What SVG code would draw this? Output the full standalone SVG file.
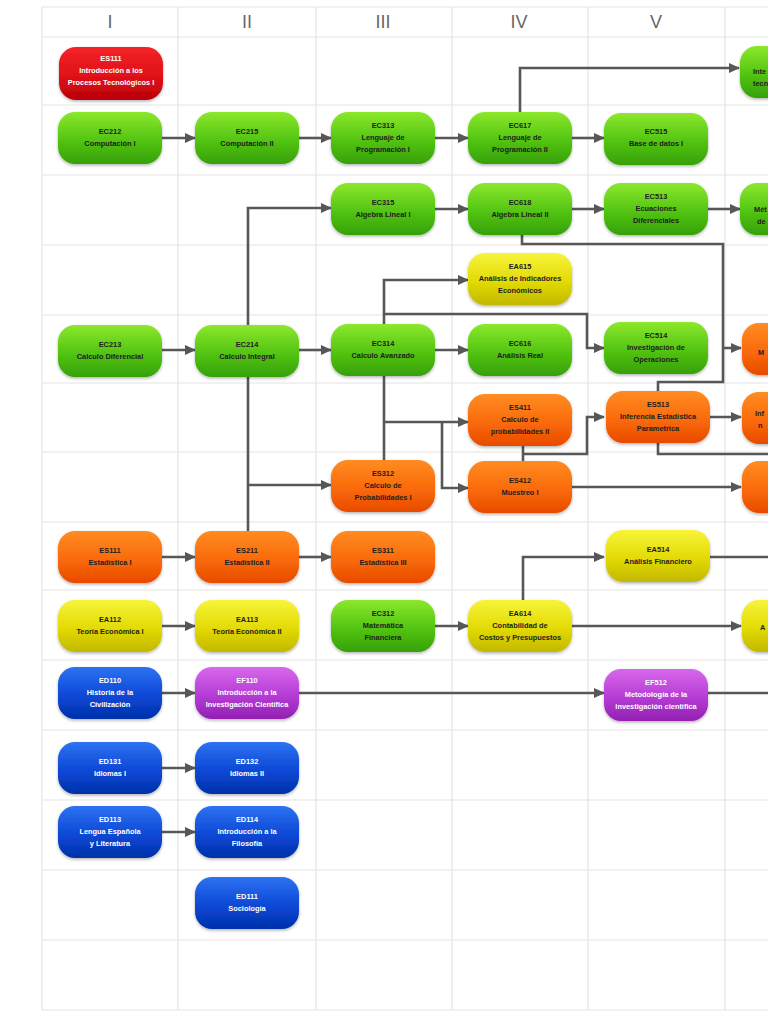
<svg xmlns="http://www.w3.org/2000/svg" width="768" height="1024" viewBox="0 0 768 1024">
<style>
.grid line{stroke:#e4e4e4;stroke-width:1.2}
.hdr{font-family:"Liberation Sans",Arial,sans-serif;font-size:18px;fill:#666;text-anchor:middle}
.n rect{filter:url(#sh)}
.n text{font-family:"Liberation Sans",Arial,sans-serif;font-size:7.4px;font-weight:bold;text-anchor:middle}
.n text.frag{text-anchor:start}
.dk text{fill:#1e1e1e}
.lt text{fill:#ffffff}
.g rect{fill:url(#gG)}
.r rect{fill:url(#gR)}
.o rect{fill:url(#gO)}
.y rect{fill:url(#gY)}
.b rect{fill:url(#gB)}
.p rect{fill:url(#gP)}
#conn path{fill:none;stroke:#575757;stroke-width:2.6}
#conn path.a{marker-end:url(#ah)}
</style>
<defs>
<linearGradient id="gG" x1="0" y1="0" x2="0" y2="1"><stop offset="0" stop-color="#8ce82c"/><stop offset="0.55" stop-color="#52c412"/><stop offset="1" stop-color="#36a006"/></linearGradient>
<linearGradient id="gR" x1="0" y1="0" x2="0" y2="1"><stop offset="0" stop-color="#f42428"/><stop offset="0.6" stop-color="#dc1016"/><stop offset="1" stop-color="#b8000c"/></linearGradient>
<linearGradient id="gO" x1="0" y1="0" x2="0" y2="1"><stop offset="0" stop-color="#ff8c22"/><stop offset="0.55" stop-color="#fa6a0a"/><stop offset="1" stop-color="#e84a00"/></linearGradient>
<linearGradient id="gY" x1="0" y1="0" x2="0" y2="1"><stop offset="0" stop-color="#f8f43a"/><stop offset="0.55" stop-color="#e2da06"/><stop offset="1" stop-color="#c2b800"/></linearGradient>
<linearGradient id="gB" x1="0" y1="0" x2="0" y2="1"><stop offset="0" stop-color="#2e72f2"/><stop offset="0.55" stop-color="#0c48d6"/><stop offset="1" stop-color="#0030a8"/></linearGradient>
<linearGradient id="gP" x1="0" y1="0" x2="0" y2="1"><stop offset="0" stop-color="#d868ec"/><stop offset="0.55" stop-color="#b43cd4"/><stop offset="1" stop-color="#9220b2"/></linearGradient>
<filter id="sh" x="-10%" y="-15%" width="120%" height="140%"><feDropShadow dx="0" dy="1.5" stdDeviation="1.5" flood-color="#000" flood-opacity="0.3"/></filter>
<marker id="ah" markerUnits="userSpaceOnUse" markerWidth="11" markerHeight="10" refX="10" refY="5" orient="auto"><path d="M0,0 L11,5 L0,10 z" fill="#575757"/></marker>
</defs>
<rect width="768" height="1024" fill="#ffffff"/>
<g class="grid">
<line x1="42" y1="7" x2="768" y2="7"/>
<line x1="42" y1="37" x2="768" y2="37"/>
<line x1="42" y1="105" x2="768" y2="105"/>
<line x1="42" y1="175" x2="768" y2="175"/>
<line x1="42" y1="245" x2="768" y2="245"/>
<line x1="42" y1="315" x2="768" y2="315"/>
<line x1="42" y1="383" x2="768" y2="383"/>
<line x1="42" y1="452" x2="768" y2="452"/>
<line x1="42" y1="522" x2="768" y2="522"/>
<line x1="42" y1="590" x2="768" y2="590"/>
<line x1="42" y1="660" x2="768" y2="660"/>
<line x1="42" y1="730" x2="768" y2="730"/>
<line x1="42" y1="800" x2="768" y2="800"/>
<line x1="42" y1="870" x2="768" y2="870"/>
<line x1="42" y1="940" x2="768" y2="940"/>
<line x1="42" y1="1010" x2="768" y2="1010"/>
<line x1="42" y1="7" x2="42" y2="1010"/>
<line x1="178" y1="7" x2="178" y2="1010"/>
<line x1="316" y1="7" x2="316" y2="1010"/>
<line x1="452" y1="7" x2="452" y2="1010"/>
<line x1="588" y1="7" x2="588" y2="1010"/>
<line x1="725" y1="7" x2="725" y2="1010"/>
</g>
<g id="headers">
<text class="hdr" x="110" y="28">I</text>
<text class="hdr" x="247" y="28">II</text>
<text class="hdr" x="383" y="28">III</text>
<text class="hdr" x="519" y="28">IV</text>
<text class="hdr" x="656" y="28">V</text>
</g>
<g id="conn">
<path class="a" d="M162,138 H195"/>
<path class="a" d="M299,138 H331"/>
<path class="a" d="M435,138 H468"/>
<path class="a" d="M572,138 H604"/>
<path class="a" d="M520,112 V68 H739"/>
<path class="a" d="M162,350 H195"/>
<path class="a" d="M299,350 H331"/>
<path class="a" d="M248,325 V208 H331"/>
<path d="M248,376 V531"/>
<path class="a" d="M248,485 H331"/>
<path class="a" d="M435,209 H468"/>
<path class="a" d="M572,209 H604"/>
<path class="a" d="M708,209 H740"/>
<path d="M522,235 V244 H723 V382 H658 V391"/>
<path class="a" d="M723,348 H741"/>
<path class="a" d="M384,324 V280 H468"/>
<path class="a" d="M384,314 H587 V348 H604"/>
<path class="a" d="M435,350 H468"/>
<path d="M384,376 V460"/>
<path class="a" d="M384,422 H468"/>
<path class="a" d="M442,422 V488 H468"/>
<path d="M523,446 V461"/>
<path class="a" d="M523,454 H587 V417 H604"/>
<path class="a" d="M708,417 H741"/>
<path d="M658,443 V454 H768"/>
<path class="a" d="M572,487 H741"/>
<path class="a" d="M162,557 H195"/>
<path class="a" d="M299,557 H331"/>
<path class="a" d="M162,626 H195"/>
<path class="a" d="M435,626 H468"/>
<path class="a" d="M572,626 H741"/>
<path class="a" d="M523,600 V557 H604"/>
<path d="M708,557 H768"/>
<path class="a" d="M162,693 H195"/>
<path class="a" d="M299,693 H604"/>
<path d="M708,693 H768"/>
<path class="a" d="M162,768 H195"/>
<path class="a" d="M162,832 H195"/>
</g>

<g id="ES111a" class="n r lt"><rect x="59" y="47" width="104" height="53" rx="17"/><text x="111" y="61">ES111</text><text x="111" y="73">Introducción a los</text><text x="111" y="85">Procesos Tecnológicos I</text></g>
<g id="EC212" class="n g dk"><rect x="58" y="112" width="104" height="52" rx="17"/><text x="110" y="134">EC212</text><text x="110" y="146">Computación I</text></g>
<g id="EC215" class="n g dk"><rect x="195" y="112" width="104" height="52" rx="17"/><text x="247" y="134">EC215</text><text x="247" y="146">Computación II</text></g>
<g id="EC313" class="n g dk"><rect x="331" y="112" width="104" height="52" rx="17"/><text x="383" y="128">EC313</text><text x="383" y="140">Lenguaje de</text><text x="383" y="152">Programación I</text></g>
<g id="EC617" class="n g dk"><rect x="468" y="112" width="104" height="52" rx="17"/><text x="520" y="128">EC617</text><text x="520" y="140">Lenguaje de</text><text x="520" y="152">Programación II</text></g>
<g id="EC515" class="n g dk"><rect x="604" y="113" width="104" height="52" rx="17"/><text x="656" y="134">EC515</text><text x="656" y="146">Base de datos I</text></g>
<g id="VI-top" class="n g dk"><rect x="740" y="46" width="104" height="52" rx="17"/><text class="frag" x="753" y="74">Inte</text><text class="frag" x="753" y="86">tecn</text></g>

<g id="EC315" class="n g dk"><rect x="331" y="183" width="104" height="52" rx="17"/><text x="383" y="205">EC315</text><text x="383" y="217">Algebra Lineal I</text></g>
<g id="EC618" class="n g dk"><rect x="468" y="183" width="104" height="52" rx="17"/><text x="520" y="205">EC618</text><text x="520" y="217">Algebra Lineal II</text></g>
<g id="EC513" class="n g dk"><rect x="604" y="183" width="104" height="52" rx="17"/><text x="656" y="199">EC513</text><text x="656" y="211">Ecuaciones</text><text x="656" y="223">Diferenciales</text></g>
<g id="VI-209" class="n g dk"><rect x="740" y="183" width="104" height="52" rx="17"/><text class="frag" x="754" y="212">Mét</text><text class="frag" x="757" y="224">de</text></g>

<g id="EA615" class="n y dk"><rect x="468" y="253" width="104" height="52" rx="17"/><text x="520" y="269">EA615</text><text x="520" y="281">Análisis de Indicadores</text><text x="520" y="293">Económicos</text></g>

<g id="EC213" class="n g dk"><rect x="58" y="325" width="104" height="52" rx="17"/><text x="110" y="347">EC213</text><text x="110" y="359">Calculo Diferencial</text></g>
<g id="EC214" class="n g dk"><rect x="195" y="325" width="104" height="52" rx="17"/><text x="247" y="347">EC214</text><text x="247" y="359">Calculo Integral</text></g>
<g id="EC314" class="n g dk"><rect x="331" y="324" width="104" height="52" rx="17"/><text x="383" y="346">EC314</text><text x="383" y="358">Calculo Avanzado</text></g>
<g id="EC616" class="n g dk"><rect x="468" y="324" width="104" height="52" rx="17"/><text x="520" y="346">EC616</text><text x="520" y="358">Análisis Real</text></g>
<g id="EC514" class="n g dk"><rect x="604" y="322" width="104" height="52" rx="17"/><text x="656" y="338">EC514</text><text x="656" y="350">Investigación de</text><text x="656" y="362">Operaciones</text></g>
<g id="VI-350" class="n o dk"><rect x="742" y="323" width="104" height="52" rx="17"/><text class="frag" x="758" y="355">M</text></g>

<g id="ES411" class="n o dk"><rect x="468" y="394" width="104" height="52" rx="17"/><text x="520" y="410">ES411</text><text x="520" y="422">Calculo de</text><text x="520" y="434">probabilidades II</text></g>
<g id="ES513" class="n o dk"><rect x="606" y="391" width="104" height="52" rx="17"/><text x="658" y="407">ES513</text><text x="658" y="419">Inferencia Estadística</text><text x="658" y="431">Parametrica</text></g>
<g id="VI-418" class="n o dk"><rect x="742" y="392" width="104" height="52" rx="17"/><text class="frag" x="755" y="416">Inf</text><text class="frag" x="758" y="428">n</text></g>

<g id="ES312" class="n o dk"><rect x="331" y="460" width="104" height="52" rx="17"/><text x="383" y="476">ES312</text><text x="383" y="488">Calculo de</text><text x="383" y="500">Probabilidades I</text></g>
<g id="ES412" class="n o dk"><rect x="468" y="461" width="104" height="52" rx="17"/><text x="520" y="483">ES412</text><text x="520" y="495">Muestreo I</text></g>
<g id="VI-487" class="n o dk"><rect x="742" y="461" width="104" height="52" rx="17"/></g>

<g id="ES111" class="n o dk"><rect x="58" y="531" width="104" height="52" rx="17"/><text x="110" y="553">ES111</text><text x="110" y="565">Estadística I</text></g>
<g id="ES211" class="n o dk"><rect x="195" y="531" width="104" height="52" rx="17"/><text x="247" y="553">ES211</text><text x="247" y="565">Estadística II</text></g>
<g id="ES311" class="n o dk"><rect x="331" y="531" width="104" height="52" rx="17"/><text x="383" y="553">ES311</text><text x="383" y="565">Estadística III</text></g>
<g id="EA514" class="n y dk"><rect x="606" y="530" width="104" height="52" rx="17"/><text x="658" y="552">EA514</text><text x="658" y="564">Análisis Financiero</text></g>

<g id="EA112" class="n y dk"><rect x="58" y="600" width="104" height="52" rx="17"/><text x="110" y="622">EA112</text><text x="110" y="634">Teoría Económica I</text></g>
<g id="EA113" class="n y dk"><rect x="195" y="600" width="104" height="52" rx="17"/><text x="247" y="622">EA113</text><text x="247" y="634">Teoría Económica II</text></g>
<g id="EC312" class="n g dk"><rect x="331" y="600" width="104" height="52" rx="17"/><text x="383" y="616">EC312</text><text x="383" y="628">Matemática</text><text x="383" y="640">Financiera</text></g>
<g id="EA614" class="n y dk"><rect x="468" y="600" width="104" height="52" rx="17"/><text x="520" y="616">EA614</text><text x="520" y="628">Contabilidad de</text><text x="520" y="640">Costos y Presupuestos</text></g>
<g id="VI-626" class="n y dk"><rect x="742" y="600" width="104" height="52" rx="17"/><text class="frag" x="760" y="630">A</text></g>

<g id="ED110" class="n b lt"><rect x="58" y="667" width="104" height="52" rx="17"/><text x="110" y="683">ED110</text><text x="110" y="695">Historia de la</text><text x="110" y="707">Civilización</text></g>
<g id="EF110" class="n p lt"><rect x="195" y="667" width="104" height="52" rx="17"/><text x="247" y="683">EF110</text><text x="247" y="695">Introducción a la</text><text x="247" y="707">Investigación Científica</text></g>
<g id="EF512" class="n p lt"><rect x="604" y="669" width="104" height="52" rx="17"/><text x="656" y="685">EF512</text><text x="656" y="697">Metodología de la</text><text x="656" y="709">investigación científica</text></g>

<g id="ED131" class="n b lt"><rect x="58" y="742" width="104" height="52" rx="17"/><text x="110" y="764">ED131</text><text x="110" y="776">Idiomas I</text></g>
<g id="ED132" class="n b lt"><rect x="195" y="742" width="104" height="52" rx="17"/><text x="247" y="764">ED132</text><text x="247" y="776">Idiomas II</text></g>
<g id="ED113" class="n b lt"><rect x="58" y="806" width="104" height="52" rx="17"/><text x="110" y="822">ED113</text><text x="110" y="834">Lengua Española</text><text x="110" y="846">y Literatura</text></g>
<g id="ED114" class="n b lt"><rect x="195" y="806" width="104" height="52" rx="17"/><text x="247" y="822">ED114</text><text x="247" y="834">Introducción a la</text><text x="247" y="846">Filosofía</text></g>
<g id="ED111" class="n b lt"><rect x="195" y="877" width="104" height="52" rx="17"/><text x="247" y="899">ED111</text><text x="247" y="911">Sociología</text></g>
</svg>
